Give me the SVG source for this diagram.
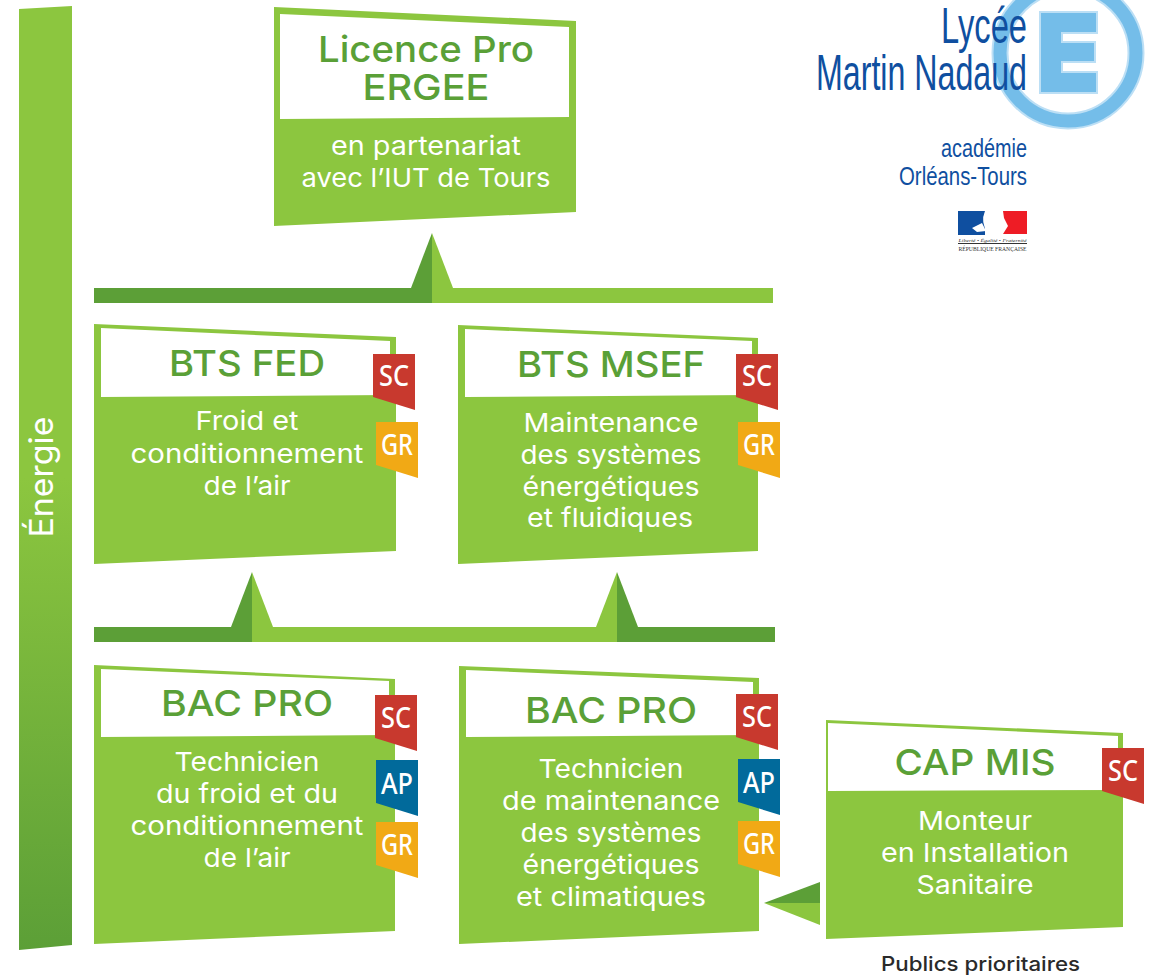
<svg xmlns="http://www.w3.org/2000/svg" xmlns:xlink="http://www.w3.org/1999/xlink" width="1159" height="978" viewBox="0 0 1159 978">
<style>
text{font-family:"Inter","Noto Sans",sans-serif;text-anchor:middle}
.g{fill:#8cc63f}.d{fill:#5c9f37}.w{fill:#fff}
.h{fill:#5aa037;font-size:36px;font-weight:500}
.t{fill:#fff;font-size:26px;font-weight:400}
.f{fill:#fff;font-family:"Noto Sans","Open Sans",sans-serif;font-size:28px;font-weight:500}
.sc{fill:#c8392e}.ap{fill:#016a9b}.gr{fill:#f1a915}
.lo{fill:#0f4fa0;font-family:"Liberation Sans",sans-serif;text-anchor:end}
</style>
<defs>
<linearGradient id="bar" x1="0" y1="0" x2="0" y2="1"><stop offset="0" stop-color="#8cc63f"/><stop offset=".5" stop-color="#8cc63f"/><stop offset="1" stop-color="#5c9f37"/></linearGradient>
<polygon id="flag" points="0,0 42,0 42,56 0,43"/>
</defs>

<g id="energie">
<polygon points="19,9 72,6 72,945 19,950" fill="url(#bar)"/>
<text class="t" transform="translate(53,477) rotate(-90)" font-size="33" style="font-size:33px" textLength="121" lengthAdjust="spacingAndGlyphs">Énergie</text>
</g>

<g id="connectors">
<rect class="d" x="94" y="288" width="338" height="15"/>
<rect class="g" x="432" y="288" width="341" height="15"/>
<polygon class="d" points="411,288 432,233 432,288"/>
<polygon class="g" points="432,233 453,288 432,288"/>
<rect class="d" x="94" y="627" width="158" height="15"/>
<rect class="g" x="252" y="627" width="365" height="15"/>
<rect class="d" x="617" y="627" width="158" height="15"/>
<polygon class="d" points="231,627 252,572 252,627"/>
<polygon class="g" points="252,572 273,627 252,627"/>
<polygon class="g" points="596,627 617,572 617,627"/>
<polygon class="d" points="617,572 638,627 617,627"/>
<polygon class="d" points="820,882 764,903 820,903"/>
<polygon class="g" points="764,903 820,903 820,925"/>
</g>

<g id="licence">
<polygon class="g" points="274,7 576,21 576,212 274,226"/>
<polygon class="w" points="280,14 569,27 569,117 280,119"/>
<text class="h" x="426" y="62" textLength="216" lengthAdjust="spacingAndGlyphs">Licence Pro</text>
<text class="h" x="426" y="100" textLength="127" lengthAdjust="spacingAndGlyphs">ERGEE</text>
<text class="t" x="426" y="155" textLength="190" lengthAdjust="spacingAndGlyphs">en partenariat</text>
<text class="t" x="426" y="187" textLength="249" lengthAdjust="spacingAndGlyphs">avec l’IUT de Tours</text>
</g>

<g id="bts-fed">
<polygon class="g" points="94,324 396,337 396,551 94,564"/>
<polygon class="w" points="101,328 390,341 390,395 101,397"/>
<text class="h" x="247" y="376" textLength="156" lengthAdjust="spacingAndGlyphs">BTS FED</text>
<text class="t" x="247" y="430" textLength="103" lengthAdjust="spacingAndGlyphs">Froid et</text>
<text class="t" x="247" y="463" textLength="233" lengthAdjust="spacingAndGlyphs">conditionnement</text>
<text class="t" x="247" y="495" textLength="87" lengthAdjust="spacingAndGlyphs">de l’air</text>
<g transform="translate(373,354)"><use href="#flag" class="sc"/><text class="f" x="21" y="32" textLength="30" lengthAdjust="spacingAndGlyphs">SC</text></g>
<g transform="translate(376,422)"><use href="#flag" class="gr"/><text class="f" x="21" y="33" textLength="32" lengthAdjust="spacingAndGlyphs">GR</text></g>
</g>

<g id="bts-msef">
<polygon class="g" points="458,325 758,338 758,551 458,564"/>
<polygon class="w" points="465,329 752,341 752,395 465,397"/>
<text class="h" x="611" y="377" textLength="188" lengthAdjust="spacingAndGlyphs">BTS MSEF</text>
<text class="t" x="611" y="432" textLength="175" lengthAdjust="spacingAndGlyphs">Maintenance</text>
<text class="t" x="611" y="464" textLength="181" lengthAdjust="spacingAndGlyphs">des systèmes</text>
<text class="t" x="611" y="496" textLength="177" lengthAdjust="spacingAndGlyphs">énergétiques</text>
<text class="t" x="610" y="527" textLength="166" lengthAdjust="spacingAndGlyphs">et fluidiques</text>
<g transform="translate(736,354)"><use href="#flag" class="sc"/><text class="f" x="21" y="32" textLength="30" lengthAdjust="spacingAndGlyphs">SC</text></g>
<g transform="translate(738,422)"><use href="#flag" class="gr"/><text class="f" x="21" y="33" textLength="32" lengthAdjust="spacingAndGlyphs">GR</text></g>
</g>

<g id="bac-pro-froid">
<polygon class="g" points="94,665 395,679 395,931 94,944"/>
<polygon class="w" points="101,669 389,681 389,735 101,737"/>
<text class="h" x="247" y="716" textLength="172" lengthAdjust="spacingAndGlyphs">BAC PRO</text>
<text class="t" x="247" y="771" textLength="145" lengthAdjust="spacingAndGlyphs">Technicien</text>
<text class="t" x="247" y="803" textLength="182" lengthAdjust="spacingAndGlyphs">du froid et du</text>
<text class="t" x="247" y="835" textLength="233" lengthAdjust="spacingAndGlyphs">conditionnement</text>
<text class="t" x="247" y="867" textLength="87" lengthAdjust="spacingAndGlyphs">de l’air</text>
<g transform="translate(375,695)"><use href="#flag" class="sc"/><text class="f" x="21" y="33" textLength="30" lengthAdjust="spacingAndGlyphs">SC</text></g>
<g transform="translate(376,760)"><use href="#flag" class="ap"/><text class="f" x="21" y="34" textLength="32" lengthAdjust="spacingAndGlyphs">AP</text></g>
<g transform="translate(376,822)"><use href="#flag" class="gr"/><text class="f" x="21" y="33" textLength="32" lengthAdjust="spacingAndGlyphs">GR</text></g>
</g>

<g id="bac-pro-maintenance">
<polygon class="g" points="459,666 759,678 759,931 459,944"/>
<polygon class="w" points="466,670 753,682 753,735 466,737"/>
<text class="h" x="611" y="723" textLength="172" lengthAdjust="spacingAndGlyphs">BAC PRO</text>
<text class="t" x="611" y="778" textLength="145" lengthAdjust="spacingAndGlyphs">Technicien</text>
<text class="t" x="611" y="810" textLength="218" lengthAdjust="spacingAndGlyphs">de maintenance</text>
<text class="t" x="611" y="842" textLength="181" lengthAdjust="spacingAndGlyphs">des systèmes</text>
<text class="t" x="611" y="874" textLength="177" lengthAdjust="spacingAndGlyphs">énergétiques</text>
<text class="t" x="611" y="906" textLength="190" lengthAdjust="spacingAndGlyphs">et climatiques</text>
<g transform="translate(736,694)"><use href="#flag" class="sc"/><text class="f" x="21" y="33" textLength="30" lengthAdjust="spacingAndGlyphs">SC</text></g>
<g transform="translate(738,759)"><use href="#flag" class="ap"/><text class="f" x="21" y="34" textLength="32" lengthAdjust="spacingAndGlyphs">AP</text></g>
<g transform="translate(738,821)"><use href="#flag" class="gr"/><text class="f" x="21" y="33" textLength="32" lengthAdjust="spacingAndGlyphs">GR</text></g>
</g>

<g id="cap-mis">
<polygon class="g" points="826,720 1123,733 1123,927 826,939"/>
<polygon class="w" points="828,723 1118,736 1118,790 828,791"/>
<text class="h" x="975" y="775" textLength="161" lengthAdjust="spacingAndGlyphs">CAP MIS</text>
<text class="t" x="975" y="830" textLength="114" lengthAdjust="spacingAndGlyphs">Monteur</text>
<text class="t" x="975" y="862" textLength="188" lengthAdjust="spacingAndGlyphs">en Installation</text>
<text class="t" x="975" y="894" textLength="117" lengthAdjust="spacingAndGlyphs">Sanitaire</text>
<g transform="translate(1102,748)"><use href="#flag" class="sc"/><text class="f" x="21" y="33" textLength="30" lengthAdjust="spacingAndGlyphs">SC</text></g>
</g>

<text id="publics" x="980.500" y="971" fill="#2a2a2a" style="font-size:20px;font-weight:500" textLength="199" lengthAdjust="spacingAndGlyphs">Publics prioritaires</text>

<g id="logo">
<circle cx="1068" cy="53" r="68" fill="none" stroke="#bcdff5" stroke-width="17"/>
<circle cx="1068" cy="53" r="68" fill="none" stroke="#74bde9" stroke-width="13"/>
<polygon points="1040,12 1097,12 1097,33 1062,33 1062,42 1095,42 1095,62 1062,62 1062,72 1097,72 1097,93 1040,93" fill="#74bde9" stroke="#bcdff5" stroke-width="2"/>
<text class="lo" x="1027" y="43" style="font-size:50px" textLength="86" lengthAdjust="spacingAndGlyphs">Lycée</text>
<text class="lo" x="1027" y="90" style="font-size:50px" textLength="211" lengthAdjust="spacingAndGlyphs">Martin Nadaud</text>
<text class="lo" x="1027" y="157" style="font-size:25px" textLength="86" lengthAdjust="spacingAndGlyphs">académie</text>
<text class="lo" x="1027" y="185" style="font-size:25px" textLength="128" lengthAdjust="spacingAndGlyphs">Orléans-Tours</text>
<rect x="958" y="211" width="69" height="24" fill="#fff"/>
<rect x="958" y="211" width="27" height="24" fill="#0f4fa0"/>
<polygon points="1003,211 1027,211 1027,234 1003,234 1008,226 1004,218" fill="#ee1c25"/>
<path d="M985,211 Q980,222 988,234 L1000,234 Q1003,226 1003,222 L1001,212 Z" fill="#fff"/>
<path d="M972,228 L982,223 L986,231 L977,232 Z" fill="#fff"/>
<text x="992.500" y="241.500" fill="#333" style="font-family:'Liberation Serif',serif;font-size:5px;font-style:italic" textLength="68" lengthAdjust="spacingAndGlyphs">Liberté • Égalité • Fraternité</text>
<rect x="958" y="243" width="69" height="1" fill="#333"/>
<text x="992.500" y="250.500" fill="#333" style="font-family:'Liberation Serif',serif;font-size:6px" textLength="68" lengthAdjust="spacingAndGlyphs">RÉPUBLIQUE FRANÇAISE</text>
</g>
</svg>
